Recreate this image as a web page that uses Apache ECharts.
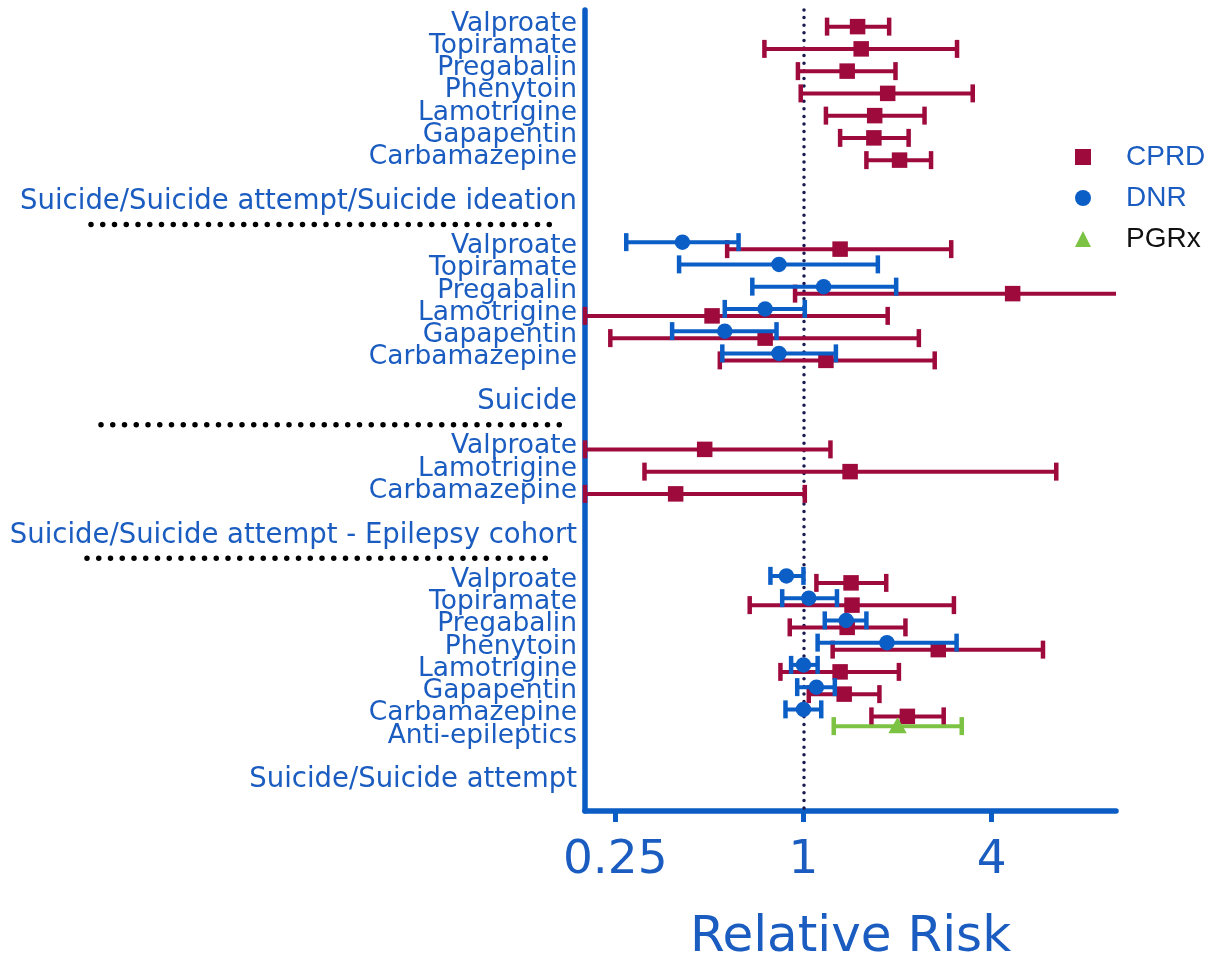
<!DOCTYPE html>
<html><head><meta charset="utf-8">
<script src="https://cdn.jsdelivr.net/npm/echarts@6/dist/echarts.min.js"></script>
<style>html,body{margin:0;padding:0;background:#fff}#chart{width:1211px;height:956px}</style>
</head><body><div id="chart"></div>
<script>
// ---- categories (rows, top to bottom) ----
const rowLabels = [
  'Valproate','Topiramate','Pregabalin','Phenytoin','Lamotrigine','Gapapentin','Carbamazepine','',
  'Suicide/Suicide attempt/Suicide ideation','',
  'Valproate','Topiramate','Pregabalin','Lamotrigine','Gapapentin','Carbamazepine','',
  'Suicide','',
  'Valproate','Lamotrigine','Carbamazepine','',
  'Suicide/Suicide attempt - Epilepsy cohort','',
  'Valproate','Topiramate','Pregabalin','Phenytoin','Lamotrigine','Gapapentin','Carbamazepine','Anti-epileptics','',
  'Suicide/Suicide attempt',''
];
const headerRows = [8, 17, 23, 34];
const separatorRows = [9, 18, 24];
const xTickValues = [0.25, 1, 4];
const xTickLabels = ['0.25', '1', '4'];

// ---- CPRD ----
const cprdRows = [0,1,2,3,4,5,6, 10,12,13,14,15, 19,20,21, 25,26,27,28,29,30,31];
const cprdRR   = [1.49,1.53,1.38,1.86,1.69,1.68,2.03, 1.31,4.67,0.51,0.754,1.18, 0.483,1.41,0.39, 1.42,1.43,1.38,2.70,1.31,1.35,2.15];
const cprdLow  = [1.19,0.75,0.96,0.98,1.18,1.31,1.59, 0.57,0.94,0.20,0.241,0.54, 0.20,0.31,0.20, 1.10,0.673,0.904,1.24,0.844,1.04,1.65];
const cprdHigh = [1.88,3.10,1.97,3.48,2.44,2.17,2.56, 2.97,14.0,1.86,2.34,2.63, 1.22,6.44,1.01, 1.84,3.03,2.12,5.84,2.02,1.75,2.81];

// ---- DNR ----
const dnrRows = [10,11,12,13,14,15, 25,26,27,28,29,30,31];
const dnrRR   = [0.41,0.835,1.16,0.754,0.56,0.835, 0.882,1.04,1.37,1.85,1.0,1.10,1.0];
const dnrLow  = [0.271,0.40,0.686,0.56,0.38,0.55, 0.784,0.855,1.17,1.11,0.913,0.955,0.876];
const dnrHigh = [0.62,1.73,1.98,1.01,0.82,1.27, 1.0,1.28,1.59,3.09,1.11,1.26,1.14];

// ---- PGRx ----
const pgrxRows = [32];
const pgrxRR   = [2.0];
const pgrxLow  = [1.25];
const pgrxHigh = [3.21];

const C_CPRD = '#9e0a3c', C_DNR = '#0b5ec6', C_PGRX = '#7cc243';
const C_AXIS = '#0b5cc4', C_LABEL = '#1a5cc0', C_REF = '#1b1a4f';
const FONT = 'DejaVu Sans';

function build(rows, rr, lo, hi) {
  return rows.map((r, i) => [r, rr[i], lo[i], hi[i]]);
}

function makeRender(shape, color, dy, size) {
  return function (params, api) {
    const row = api.value(0);
    const pMid = api.coord([api.value(1), row]);
    let xLo = api.coord([api.value(2), row])[0];
    let xHi = api.coord([api.value(3), row])[0];
    const cs = params.coordSys;
    const y = pMid[1] + dy;
    const cap = 9;
    const children = [];
    let capHi = true, capLo = true;
    if (xHi > cs.x + cs.width) { xHi = cs.x + cs.width; capHi = false; }
    if (xLo < cs.x) { xLo = cs.x; capLo = false; }
    children.push({type: 'line', shape: {x1: xLo, y1: y, x2: xHi, y2: y}, style: {stroke: color, lineWidth: 4}});
    if (capLo) children.push({type: 'line', shape: {x1: xLo, y1: y - cap, x2: xLo, y2: y + cap}, style: {stroke: color, lineWidth: 4.5}});
    if (capHi) children.push({type: 'line', shape: {x1: xHi, y1: y - cap, x2: xHi, y2: y + cap}, style: {stroke: color, lineWidth: 4.5}});
    const x = pMid[0];
    if (shape === 'rect') {
      children.push({type: 'rect', shape: {x: x - size / 2, y: y - size / 2, width: size, height: size}, style: {fill: color}});
    } else if (shape === 'circle') {
      children.push({type: 'circle', shape: {cx: x, cy: y, r: size / 2}, style: {fill: color}});
    } else {
      const w = size * 1.15, h = size;
      children.push({type: 'polygon', shape: {points: [[x, y - h * 0.55], [x + w / 2, y + h * 0.45], [x - w / 2, y + h * 0.45]]}, style: {fill: color}});
    }
    return {type: 'group', children};
  };
}

const chart = echarts.init(document.getElementById('chart'), null, {renderer: 'canvas'});

const legendText = (color) => ({color, fontSize: 28, fontFamily: 'Liberation Sans', padding: [0, 0, 0, 30], lineHeight: 30});

chart.setOption({
  animation: false,
  backgroundColor: '#ffffff',
  grid: {left: 585, right: 95, top: 10, bottom: 145, outerBoundsMode: 'none', containLabel: false},
  legend: {
    orient: 'vertical', left: 1070, top: 137, itemWidth: 16, itemHeight: 16, itemGap: 11,
    data: [
      {name: 'CPRD', icon: 'rect', textStyle: legendText(C_LABEL)},
      {name: 'DNR', icon: 'circle', textStyle: legendText(C_LABEL)},
      {name: 'PGRx', icon: 'triangle', textStyle: legendText('#111111')}
    ]
  },
  xAxis: {
    type: 'log', logBase: 4, min: 0.2, max: 10,
    axisLine: {show: true, lineStyle: {color: C_AXIS, width: 5.5}},
    axisTick: {show: true, length: 11, lineStyle: {color: C_AXIS, width: 5}, customValues: xTickValues},
    axisLabel: {
      customValues: xTickValues, color: C_LABEL, fontSize: 47, fontFamily: FONT, margin: 26,
      formatter: function (v) {
        let best = 0;
        xTickValues.forEach((t, i) => { if (Math.abs(Math.log(t / v)) < Math.abs(Math.log(xTickValues[best] / v))) best = i; });
        return xTickLabels[best];
      }
    },
    splitLine: {show: false},
    name: 'Relative Risk', nameLocation: 'middle', nameGap: 102,
    nameTextStyle: {color: C_LABEL, fontSize: 50, fontFamily: FONT}
  },
  yAxis: {
    type: 'category', inverse: true, data: rowLabels, boundaryGap: true,
    axisLine: {show: true, lineStyle: {color: C_AXIS, width: 5.5}},
    axisTick: {show: false},
    splitLine: {show: false},
    axisLabel: {
      interval: 0, margin: 8,
      formatter: function (v, i) {
        if (!v) return '';
        return headerRows.indexOf(i) >= 0 ? '{h|' + v + '}' : '{d|' + v + '}';
      },
      rich: {
        d: {color: C_LABEL, fontSize: 26.5, fontFamily: FONT, padding: [5, 0, 0, 0]},
        h: {color: C_LABEL, fontSize: 27.5, fontFamily: FONT, padding: [5, 0, 0, 0]}
      }
    }
  },
  series: [
    {
      name: 'CPRD', type: 'custom', itemStyle: {color: C_CPRD}, z: 3,
      renderItem: makeRender('rect', C_CPRD, 5.5, 15.5),
      encode: {x: [1, 2, 3], y: 0},
      data: build(cprdRows, cprdRR, cprdLow, cprdHigh),
      markLine: {
        silent: true, symbol: ['none', 'none'], label: {show: false}, z: 1,
        lineStyle: {color: C_REF, width: 3.5, type: [0, 7.6], cap: 'round'},
        data: [{xAxis: 1}]
      }
    },
    {
      name: 'DNR', type: 'custom', itemStyle: {color: C_DNR}, z: 4,
      renderItem: makeRender('circle', C_DNR, -1.5, 15.5),
      encode: {x: [1, 2, 3], y: 0},
      data: build(dnrRows, dnrRR, dnrLow, dnrHigh)
    },
    {
      name: 'PGRx', type: 'custom', itemStyle: {color: C_PGRX}, z: 3,
      renderItem: makeRender('triangle', C_PGRX, -7, 16),
      encode: {x: [1, 2, 3], y: 0},
      data: build(pgrxRows, pgrxRR, pgrxLow, pgrxHigh)
    }
  ]
});

// dotted separators under group headers
const sepSpans = [[91, 561], [101, 570], [87, 557]];
const graphics = separatorRows.map((r, i) => {
  const y = chart.convertToPixel({yAxisIndex: 0}, r) + 3;
  return {
    type: 'line', z: 10,
    shape: {x1: sepSpans[i][0], y1: y, x2: sepSpans[i][1], y2: y},
    style: {stroke: '#000000', lineWidth: 5.5, lineDash: [0, 11.75], lineCap: 'round'}
  };
});
chart.setOption({graphic: graphics});
</script>
</body></html>
